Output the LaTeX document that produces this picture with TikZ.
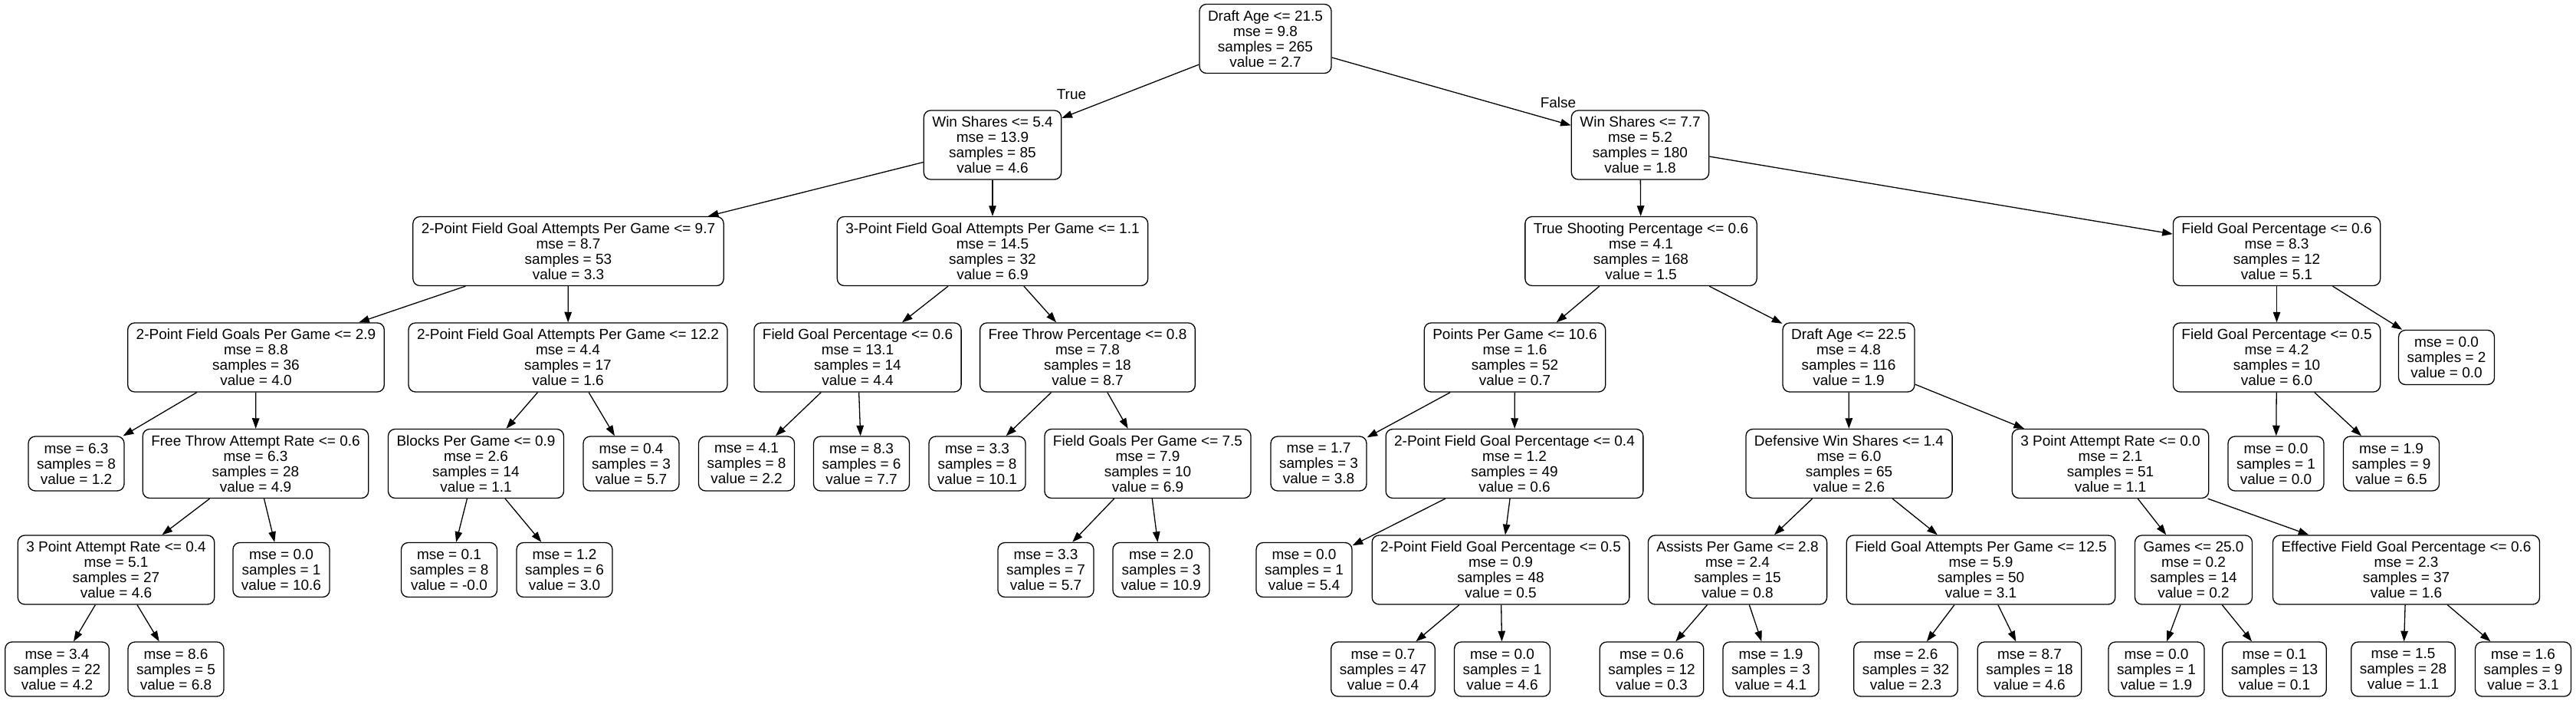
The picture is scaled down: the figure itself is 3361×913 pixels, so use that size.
\documentclass[tikz,border=0pt]{standalone}
\usepackage{fontspec}
\setmainfont{Liberation Sans}
\usepackage{tikz}
\tikzstyle{split}=[draw, line width=1.3pt, rounded corners=9pt, align=center, minimum height=90pt, inner xsep=11pt, inner ysep=0pt]
\tikzstyle{leaf}=[split, minimum height=71pt]
\tikzstyle{arrow}=[line width=1.3pt,->,>={Triangle[length=13.6pt,width=9.5pt]}]
\usetikzlibrary{arrows.meta,positioning}

\begin{document}
\begin{tikzpicture}[x=1pt,y=-1pt,font=\fontsize{19}{20}\selectfont]
\useasboundingbox (0,0) rectangle (3361,913);
\node (n0) [split] at (1651,50.5) {Draft Age <= 21.5\\mse = 9.8\\samples = 265\\value = 2.7};
\node (n1) [split] at (1295,189) {Win Shares <= 5.4\\mse = 13.9\\samples = 85\\value = 4.6};
\node (n2) [split] at (741.5,327.5) {2-Point Field Goal Attempts Per Game <= 9.7\\mse = 8.7\\samples = 53\\value = 3.3};
\node (n3) [split] at (334,466) {2-Point Field Goals Per Game <= 2.9\\mse = 8.8\\samples = 36\\value = 4.0};
\node (n4) [leaf] at (99.5,604.5) {mse = 6.3\\samples = 8\\value = 1.2};
\node (n5) [split] at (333.5,604.5) {Free Throw Attempt Rate <= 0.6\\mse = 6.3\\samples = 28\\value = 4.9};
\node (n6) [split] at (151.5,743) {3 Point Attempt Rate <= 0.4\\mse = 5.1\\samples = 27\\value = 4.6};
\node (n7) [leaf] at (74.5,872.5) {mse = 3.4\\samples = 22\\value = 4.2};
\node (n8) [leaf] at (229.5,872.5) {mse = 8.6\\samples = 5\\value = 6.8};
\node (n9) [leaf] at (367,743) {mse = 0.0\\samples = 1\\value = 10.6};
\node (n10) [split] at (741,466) {2-Point Field Goal Attempts Per Game <= 12.2\\mse = 4.4\\samples = 17\\value = 1.6};
\node (n11) [split] at (621,604.5) {Blocks Per Game <= 0.9\\mse = 2.6\\samples = 14\\value = 1.1};
\node (n12) [leaf] at (586,743) {mse = 0.1\\samples = 8\\value = -0.0};
\node (n13) [leaf] at (736.5,743) {mse = 1.2\\samples = 6\\value = 3.0};
\node (n14) [leaf] at (823.5,604.5) {mse = 0.4\\samples = 3\\value = 5.7};
\node (n15) [split] at (1295,327.5) {3-Point Field Goal Attempts Per Game <= 1.1\\mse = 14.5\\samples = 32\\value = 6.9};
\node (n16) [split] at (1119,466) {Field Goal Percentage <= 0.6\\mse = 13.1\\samples = 14\\value = 4.4};
\node (n17) [leaf] at (974,604.5) {mse = 4.1\\samples = 8\\value = 2.2};
\node (n18) [leaf] at (1124,604.5) {mse = 8.3\\samples = 6\\value = 7.7};
\node (n19) [split] at (1419,466) {Free Throw Percentage <= 0.8\\mse = 7.8\\samples = 18\\value = 8.7};
\node (n20) [leaf] at (1275,604.5) {mse = 3.3\\samples = 8\\value = 10.1};
\node (n21) [split] at (1497.5,604.5) {Field Goals Per Game <= 7.5\\mse = 7.9\\samples = 10\\value = 6.9};
\node (n22) [leaf] at (1364.5,743) {mse = 3.3\\samples = 7\\value = 5.7};
\node (n23) [leaf] at (1515,743) {mse = 2.0\\samples = 3\\value = 10.9};
\node (n24) [split] at (2140,189) {Win Shares <= 7.7\\mse = 5.2\\samples = 180\\value = 1.8};
\node (n25) [split] at (2141,327.5) {True Shooting Percentage <= 0.6\\mse = 4.1\\samples = 168\\value = 1.5};
\node (n26) [split] at (1976.5,466) {Points Per Game <= 10.6\\mse = 1.6\\samples = 52\\value = 0.7};
\node (n27) [leaf] at (1720.5,604.5) {mse = 1.7\\samples = 3\\value = 3.8};
\node (n28) [split] at (1976,604.5) {2-Point Field Goal Percentage <= 0.4\\mse = 1.2\\samples = 49\\value = 0.6};
\node (n29) [leaf] at (1701.5,743) {mse = 0.0\\samples = 1\\value = 5.4};
\node (n30) [split] at (1958,743) {2-Point Field Goal Percentage <= 0.5\\mse = 0.9\\samples = 48\\value = 0.5};
\node (n31) [leaf] at (1804.5,872.5) {mse = 0.7\\samples = 47\\value = 0.4};
\node (n32) [leaf] at (1960,872.5) {mse = 0.0\\samples = 1\\value = 4.6};
\node (n33) [split] at (2412,466) {Draft Age <= 22.5\\mse = 4.8\\samples = 116\\value = 1.9};
\node (n34) [split] at (2412.5,604.5) {Defensive Win Shares <= 1.4\\mse = 6.0\\samples = 65\\value = 2.6};
\node (n35) [split] at (2267,743) {Assists Per Game <= 2.8\\mse = 2.4\\samples = 15\\value = 0.8};
\node (n36) [leaf] at (2155,872.5) {mse = 0.6\\samples = 12\\value = 0.3};
\node (n37) [leaf] at (2310.5,872.5) {mse = 1.9\\samples = 3\\value = 4.1};
\node (n38) [split] at (2584.5,743) {Field Goal Attempts Per Game <= 12.5\\mse = 5.9\\samples = 50\\value = 3.1};
\node (n39) [leaf] at (2486.5,872.5) {mse = 2.6\\samples = 32\\value = 2.3};
\node (n40) [leaf] at (2648,872.5) {mse = 8.7\\samples = 18\\value = 4.6};
\node (n41) [split] at (2753.5,604.5) {3 Point Attempt Rate <= 0.0\\mse = 2.1\\samples = 51\\value = 1.1};
\node (n42) [split] at (2862,743) {Games <= 25.0\\mse = 0.2\\samples = 14\\value = 0.2};
\node (n43) [leaf] at (2813.5,872.5) {mse = 0.0\\samples = 1\\value = 1.9};
\node (n44) [leaf] at (2967.5,872.5) {mse = 0.1\\samples = 13\\value = 0.1};
\node (n45) [split] at (3139.5,743) {Effective Field Goal Percentage <= 0.6\\mse = 2.3\\samples = 37\\value = 1.6};
\node (n46) [leaf] at (3135.5,872.5) {mse = 1.5\\samples = 28\\value = 1.1};
\node (n47) [leaf] at (3292,872.5) {mse = 1.6\\samples = 9\\value = 3.1};
\node (n48) [split] at (2970.5,327.5) {Field Goal Percentage <= 0.6\\mse = 8.3\\samples = 12\\value = 5.1};
\node (n49) [split] at (2970.5,466) {Field Goal Percentage <= 0.5\\mse = 4.2\\samples = 10\\value = 6.0};
\node (n50) [leaf] at (2969.5,604.5) {mse = 0.0\\samples = 1\\value = 0.0};
\node (n51) [leaf] at (3120,604.5) {mse = 1.9\\samples = 9\\value = 6.5};
\node (n52) [leaf] at (3192,466) {mse = 0.0\\samples = 2\\value = 0.0};

\node (t) at (1398,123) {True};
\node (f) at (2033,134) {False};

\draw[arrow] (n0) -- (n1);
\draw[arrow] (n1) -- (n2);
\draw[arrow] (n2) -- (n3);
\draw[arrow] (n3) -- (n4);
\draw[arrow] (n3) -- (n5);
\draw[arrow] (n5) -- (n6);
\draw[arrow] (n6) -- (n7);
\draw[arrow] (n6) -- (n8);
\draw[arrow] (n5) -- (n9);
\draw[arrow] (n2) -- (n10);
\draw[arrow] (n10) -- (n11);
\draw[arrow] (n11) -- (n12);
\draw[arrow] (n11) -- (n13);
\draw[arrow] (n10) -- (n14);
\draw[arrow] (n1) -- (n15);
\draw[arrow] (n15) -- (n16);
\draw[arrow] (n16) -- (n17);
\draw[arrow] (n16) -- (n18);
\draw[arrow] (n15) -- (n19);
\draw[arrow] (n19) -- (n20);
\draw[arrow] (n19) -- (n21);
\draw[arrow] (n21) -- (n22);
\draw[arrow] (n21) -- (n23);
\draw[arrow] (n0) -- (n24);
\draw[arrow] (n24) -- (n25);
\draw[arrow] (n25) -- (n26);
\draw[arrow] (n26) -- (n27);
\draw[arrow] (n26) -- (n28);
\draw[arrow] (n28) -- (n29);
\draw[arrow] (n28) -- (n30);
\draw[arrow] (n30) -- (n31);
\draw[arrow] (n30) -- (n32);
\draw[arrow] (n25) -- (n33);
\draw[arrow] (n33) -- (n34);
\draw[arrow] (n34) -- (n35);
\draw[arrow] (n35) -- (n36);
\draw[arrow] (n35) -- (n37);
\draw[arrow] (n34) -- (n38);
\draw[arrow] (n38) -- (n39);
\draw[arrow] (n38) -- (n40);
\draw[arrow] (n33) -- (n41);
\draw[arrow] (n41) -- (n42);
\draw[arrow] (n42) -- (n43);
\draw[arrow] (n42) -- (n44);
\draw[arrow] (n41) -- (n45);
\draw[arrow] (n45) -- (n46);
\draw[arrow] (n45) -- (n47);
\draw[arrow] (n24) -- (n48);
\draw[arrow] (n48) -- (n49);
\draw[arrow] (n49) -- (n50);
\draw[arrow] (n49) -- (n51);
\draw[arrow] (n48) -- (n52);

\end{tikzpicture}
\end{document}
